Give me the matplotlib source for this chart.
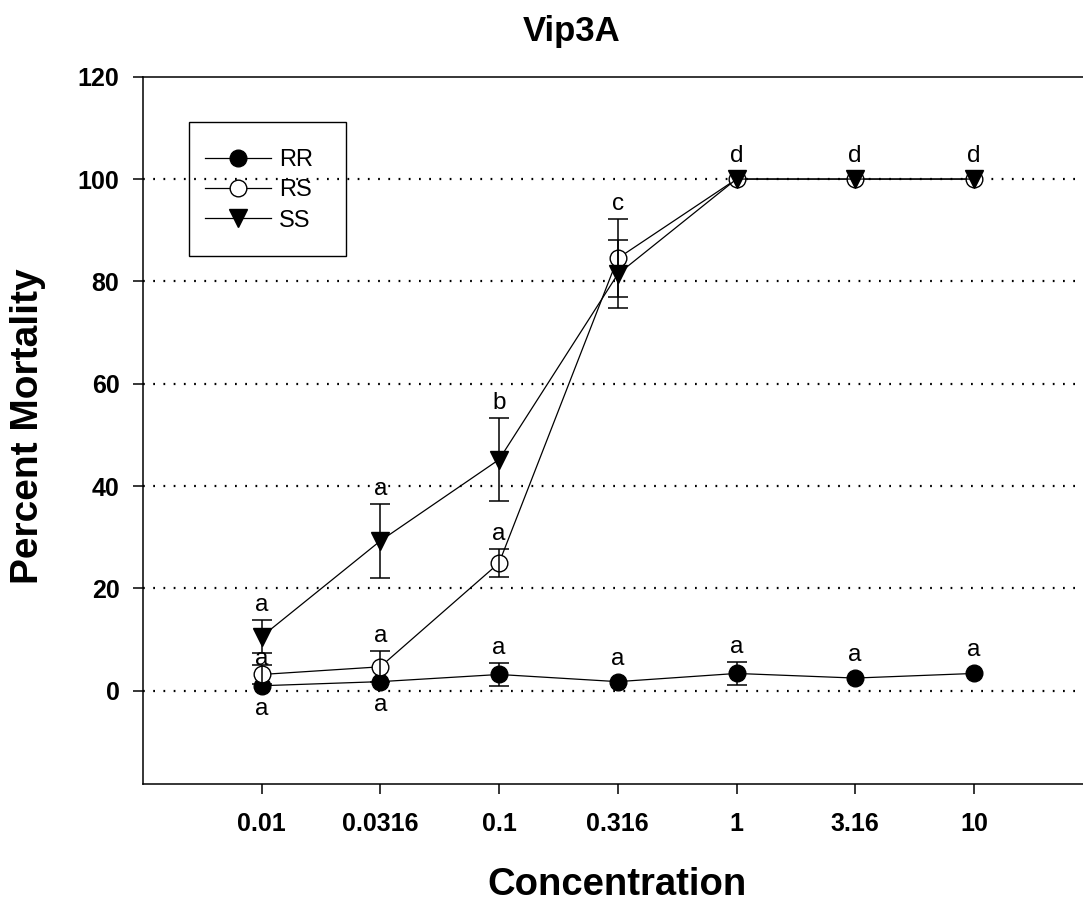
import matplotlib
matplotlib.use("Agg")
import matplotlib.pyplot as plt
from matplotlib.lines import Line2D
from matplotlib.patches import Rectangle

# -----------------------------
# Data: mean percent mortality (+/- SE) by concentration
# -----------------------------
CONC = [0.01, 0.0316, 0.1, 0.316, 1, 3.16, 10]
CONC_LABELS = ["0.01", "0.0316", "0.1", "0.316", "1", "3.16", "10"]

RR_MEAN = [1.0, 1.8, 3.2, 1.8, 3.4, 2.5, 3.4]
RR_ERR = [0.0, 0.0, 2.2, 0.0, 2.3, 0.0, 0.0]
RR_LETTERS = ["a", "a", "a", "a", "a", "a", "a"]

RS_MEAN = [3.2, 4.7, 25.0, 84.5, 100, 100, 100]
RS_ERR = [1.9, 3.0, 2.8, 7.6, 0.0, 0.0, 0.0]
RS_LETTERS = ["a", "a", "a", None, None, None, None]

SS_MEAN = [10.6, 29.3, 45.2, 81.4, 100, 100, 100]
SS_ERR = [3.2, 7.3, 8.2, 6.6, 0.0, 0.0, 0.0]
SS_LETTERS = ["a", "a", "b", "c", "d", "d", "d"]

YTICKS = [0, 20, 40, 60, 80, 100, 120]
GRID_LEVELS = [0, 20, 40, 60, 80, 100]

FONT = "Liberation Sans"
W, H = 1083, 907
MARKER_R_PX = 8      # half the marker height, in pixels
LABEL_GAP_PX = 15    # letter centre above the top of its bar/marker

SERIES = [
    dict(name="RR", mean=RR_MEAN, err=RR_ERR, letters=RR_LETTERS,
         marker="o", face="black", ms=12),
    dict(name="RS", mean=RS_MEAN, err=RS_ERR, letters=RS_LETTERS,
         marker="o", face="white", ms=12),
    dict(name="SS", mean=SS_MEAN, err=SS_ERR, letters=SS_LETTERS,
         marker="v", face="black", ms=12.5),
]


def to_px(ax, x, y):
    return ax.transData.transform((x, y))[1]


def from_px(ax, x, ypx):
    x_px = ax.transData.transform((x, 0))[0]
    return ax.transData.inverted().transform((x_px, ypx))[1]


def main():
    fig = plt.figure(figsize=(W / 100, H / 100), dpi=100)
    left, right, top, bottom = 143, 1092.6, 76.7, 784
    ax = fig.add_axes([left / W, 1 - bottom / H, (right - left) / W,
                       (bottom - top) / H])

    ax.set_xscale("log")
    ax.set_xlim(10 ** -2.5, 10 ** 1.5)
    ax.set_ylim(-18.2, 120)

    for lvl in GRID_LEVELS:
        ax.axhline(lvl, color="black", lw=1.6, linestyle=(0, (0.8, 3.8)),
                   zorder=1)

    for i, s in enumerate(SERIES):
        z = 3 + i * 2
        idx = [k for k, e in enumerate(s["err"]) if e > 0]
        if idx:
            ax.errorbar([CONC[k] for k in idx], [s["mean"][k] for k in idx],
                        yerr=[s["err"][k] for k in idx], fmt="none",
                        ecolor="black", elinewidth=1.1, capsize=7,
                        capthick=1.1, zorder=z + 1)
        ax.plot(CONC, s["mean"], color="black", lw=0.9, marker=s["marker"],
                markersize=s["ms"], markerfacecolor=s["face"],
                markeredgecolor="black", markeredgewidth=1.0, zorder=z)

    # significance letters
    rr, rs, ss = SERIES
    for k, x in enumerate(CONC):
        tops = []
        for s in SERIES:
            c = to_px(ax, x, s["mean"][k])
            tops.append(max(to_px(ax, x, s["mean"][k] + s["err"][k]),
                            c + MARKER_R_PX))
        # RR letter: below if RS sits right on top of it
        rr_top = tops[0]
        rs_low = min(to_px(ax, x, rs["mean"][k] - rs["err"][k]),
                     to_px(ax, x, rs["mean"][k]) - MARKER_R_PX)
        if rs_low - rr_top < 20:
            rr_low = min(to_px(ax, x, rr["mean"][k] - rr["err"][k]),
                         to_px(ax, x, rr["mean"][k]) - MARKER_R_PX)
            y_rr = rr_low - LABEL_GAP_PX
        else:
            y_rr = rr_top + LABEL_GAP_PX
        # RS letter: squeeze under SS bar when it is close
        ss_low = to_px(ax, x, ss["mean"][k] - ss["err"][k])
        y_rs = min(tops[1] + LABEL_GAP_PX, (tops[1] + ss_low) / 2)
        # SS letter marks the group, placed over the highest bar
        y_ss = max(tops[1], tops[2]) + LABEL_GAP_PX
        for s, ypx in zip(SERIES, [y_rr, y_rs, y_ss]):
            letter = s["letters"][k]
            if letter:
                ax.text(x, from_px(ax, x, ypx), letter, ha="center",
                        va="center", fontsize=17.5, family=FONT, zorder=10)

    ax.set_xticks(CONC)
    ax.set_xticklabels(CONC_LABELS)
    ax.minorticks_off()
    ax.set_yticks(YTICKS)
    ax.tick_params(axis="both", direction="out", length=7, width=1.1,
                  labelsize=18)
    ax.tick_params(axis="x", pad=13)
    ax.tick_params(axis="y", pad=10)
    for lab in ax.get_xticklabels() + ax.get_yticklabels():
        lab.set_family(FONT)
        lab.set_fontweight("bold")
    for sp in ax.spines.values():
        sp.set_linewidth(1.1)

    # legend
    ax.add_patch(Rectangle((189, H - 256), 157, 134, transform=None,
                           fill=False, edgecolor="black", lw=1.0, zorder=12))
    handles = [Line2D([], [], color="black", lw=0.9, marker=s["marker"],
                      markersize=s["ms"], markerfacecolor=s["face"],
                      markeredgecolor="black") for s in SERIES]
    ax.legend(handles, [s["name"] for s in SERIES], loc="upper left",
              bbox_to_anchor=((205 - left) / (right - left),
                              (bottom - 149) / (bottom - top)),
              borderaxespad=0, frameon=False, handlelength=2.8,
              handletextpad=0.35, labelspacing=0.35, borderpad=0,
              prop=dict(family=FONT, size=17))

    fig.text(572 / W, 1 - 32 / H, "Vip3A", ha="center", va="center",
             fontsize=25, fontweight="bold", family=FONT)
    fig.text(617 / W, 1 - 885 / H, "Concentration", ha="center",
             va="center", fontsize=27.5, fontweight="bold", family=FONT)
    fig.text(28 / W, 1 - 426 / H, "Percent Mortality", ha="center",
             va="center", rotation=90, fontsize=28, fontweight="bold",
             family=FONT)

    fig.savefig("out.png", dpi=100, facecolor="white")
    plt.close(fig)


if __name__ == "__main__":
    main()
